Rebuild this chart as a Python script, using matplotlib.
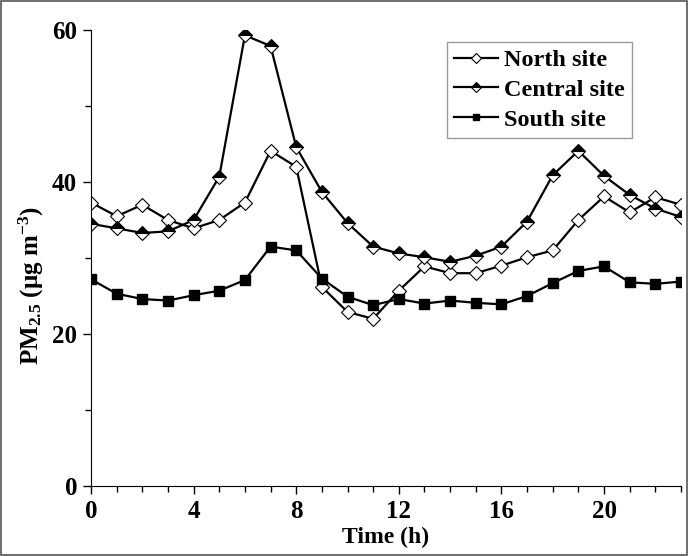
import matplotlib.pyplot as plt
from matplotlib.patches import Rectangle
from matplotlib.ticker import MultipleLocator

plt.rcParams['font.family'] = 'Liberation Serif'
plt.rcParams['font.weight'] = 'bold'
plt.rcParams['mathtext.fontset'] = 'custom'
plt.rcParams['mathtext.rm'] = 'Liberation Serif:bold'
plt.rcParams['mathtext.bf'] = 'Liberation Serif:bold'
plt.rcParams['mathtext.it'] = 'Liberation Serif:bold'

# hourly PM2.5 (ug m-3) at the three sites
hours = list(range(24))
north = [37.3, 35.5, 37.0, 35.0, 33.9, 35.0, 37.3, 44.1, 42.0, 26.2, 22.9, 22.0,
         25.7, 28.9, 28.0, 28.0, 29.0, 30.1, 31.0, 35.0, 38.1, 36.0, 38.0, 37.0]
central = [34.5, 33.9, 33.3, 33.5, 35.0, 40.7, 59.3, 57.9, 44.6, 38.7, 34.6, 31.5,
           30.6, 30.1, 29.5, 30.3, 31.5, 34.8, 40.9, 44.1, 40.8, 38.3, 36.5, 35.4]
south = [27.2, 25.3, 24.6, 24.4, 25.1, 25.7, 27.1, 31.5, 31.0, 27.3, 24.9, 23.8,
         24.6, 24.0, 24.4, 24.1, 23.9, 25.0, 26.7, 28.3, 28.9, 26.8, 26.6, 26.9]

fig = plt.figure(figsize=(6.88, 5.56), dpi=100)
ax = fig.add_axes([91/688, 1 - 486/556, 590/688, 456/556])

ax.plot(hours, north, color='black', lw=1.6, marker='D', ms=7.5,
        mfc='white', mec='black', mew=0.8, label='North site')
ax.plot(hours, central, color='black', lw=1.6, marker='D', ms=7.5,
        mfc='black', mfcalt='white', fillstyle='top', mec='black', mew=0.8,
        label='Central site')
ax.plot(hours, south, color='black', lw=1.6, marker='s', ms=7,
        mfc='black', mec='black', label='South site')

ax.set_xlim(0, 23)
ax.set_ylim(0, 60)
ax.xaxis.set_major_locator(MultipleLocator(4))
ax.xaxis.set_minor_locator(MultipleLocator(1))
ax.yaxis.set_major_locator(MultipleLocator(20))
ax.yaxis.set_minor_locator(MultipleLocator(10))
ax.spines['top'].set_visible(False)
ax.spines['right'].set_visible(False)
ax.tick_params(which='major', length=6, width=1, labelsize=18)
ax.tick_params(which='minor', length=4, width=1)
ax.tick_params(axis='x', pad=4)
ax.tick_params(axis='y', pad=4)

ax.set_xlabel('Time (h)', fontsize=17, fontweight='bold', labelpad=3)
ax.set_ylabel(r'PM$_{2.5}$ (μg m$^{-3}$)', fontsize=18, fontweight='bold')
ax.yaxis.set_label_coords(-0.076, 0.44)

leg = ax.legend(loc='upper right', bbox_to_anchor=(0.917, 0.974), borderaxespad=0,
                fontsize=17.5, frameon=True, fancybox=False, edgecolor='gray',
                handlelength=1.8, handletextpad=0.25, borderpad=0.3,
                labelspacing=0.32, markerscale=0.65)
leg.get_frame().set_linewidth(1.0)

fig.patches.append(Rectangle((0.002, 0.002), 0.996, 0.996, transform=fig.transFigure,
                             fill=False, edgecolor='#555555', lw=1.2))

fig.savefig('out.png', dpi=100)
